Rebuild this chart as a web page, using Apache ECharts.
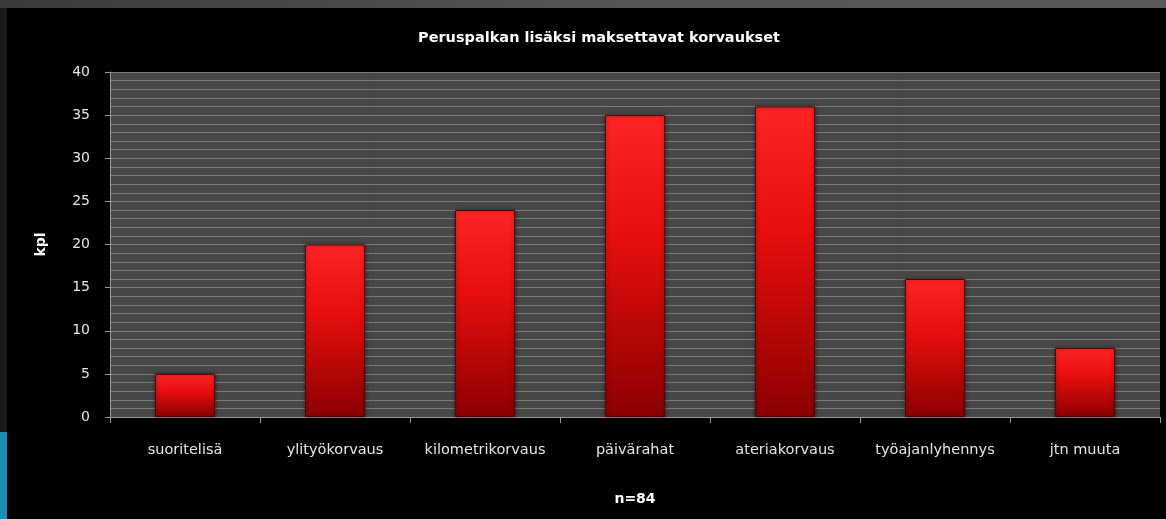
<!DOCTYPE html>
<html>
<head>
<meta charset="utf-8">
<script src="https://cdn.jsdelivr.net/npm/echarts@6/dist/echarts.min.js"></script>
<style>
  html, body { margin: 0; padding: 0; background: #000; }
  #chart { width: 1166px; height: 519px; }
</style>
</head>
<body>
<div id="chart"></div>
<script>
// Compensation types paid in addition to base salary (count of respondents)
const categories = ['suoritelisä', 'ylityökorvaus', 'kilometrikorvaus', 'päivärahat', 'ateriakorvaus', 'työajanlyhennys', 'jtn muuta'];
const counts = [5, 20, 24, 35, 36, 16, 8];
const yTicks = [0, 5, 10, 15, 20, 25, 30, 35, 40];

const chart = echarts.init(document.getElementById('chart'));
const font = '"DejaVu Sans", sans-serif';

chart.setOption({
  backgroundColor: '#000',
  animation: false,
  graphic: [
    { type: 'rect', left: 0, top: 0, shape: { width: 1166, height: 8 },
      style: { fill: new echarts.graphic.LinearGradient(0, 0, 1, 0, [
        { offset: 0, color: '#3a3a3a' }, { offset: 0.5, color: '#555' }, { offset: 1, color: '#5a5a5a' }]) } },
    { type: 'rect', left: 0, top: 8, shape: { width: 7, height: 424 }, style: { fill: '#1a1a1a' } },
    { type: 'rect', left: 0, top: 432, shape: { width: 7, height: 87 }, style: { fill: '#1b8db0' } }
  ],
  title: {
    text: 'Peruspalkan lisäksi maksettavat korvaukset',
    left: 594, top: 26, textAlign: 'center',
    textStyle: { color: '#fff', fontSize: 14.5, fontWeight: 'bold', fontFamily: font }
  },
  grid: { left: 110, right: 6, top: 72, bottom: 102, backgroundColor: '#474747', show: true, borderWidth: 0 },
  xAxis: {
    type: 'category',
    data: categories,
    name: 'n=84',
    nameLocation: 'middle',
    nameGap: 75,
    nameTextStyle: { color: '#fff', fontSize: 14, fontWeight: 'bold', fontFamily: font },
    axisLine: { lineStyle: { color: '#9a9a9a', width: 1 } },
    axisTick: { show: true, interval: 0, alignWithLabel: false, length: 6, lineStyle: { color: '#9a9a9a' } },
    axisLabel: { color: '#e6e6e6', fontSize: 14.5, margin: 26, interval: 0, hideOverlap: false, fontFamily: font }
  },
  yAxis: {
    type: 'value',
    min: yTicks[0], max: yTicks[yTicks.length - 1], interval: 5,
    name: 'kpl',
    nameLocation: 'middle',
    nameGap: 62,
    nameRotate: 90,
    nameTextStyle: { color: '#fff', fontSize: 14, fontWeight: 'bold', fontFamily: font },
    axisLine: { show: true, lineStyle: { color: '#9a9a9a' } },
    axisTick: { show: true, length: 5, lineStyle: { color: '#9a9a9a' } },
    axisLabel: { color: '#e6e6e6', fontSize: 14, margin: 20, fontFamily: font },
    splitLine: { show: true, lineStyle: { color: '#7a7a7a', width: 1 } },
    minorTick: { show: false, splitNumber: 5 },
    minorSplitLine: { show: true, lineStyle: { color: '#7a7a7a', width: 1 } }
  },
  series: [{
    type: 'bar',
    data: counts,
    barWidth: '40%',
    itemStyle: {
      color: new echarts.graphic.LinearGradient(0, 0, 0, 1, [
        { offset: 0, color: '#ff2424' },
        { offset: 0.4, color: '#e80e0e' },
        { offset: 1, color: '#8c0000' }
      ]),
      borderColor: '#5a0000',
      borderWidth: 1,
      shadowColor: 'rgba(0,0,0,0.5)',
      shadowBlur: 4
    }
  }]
});
</script>
</body>
</html>
